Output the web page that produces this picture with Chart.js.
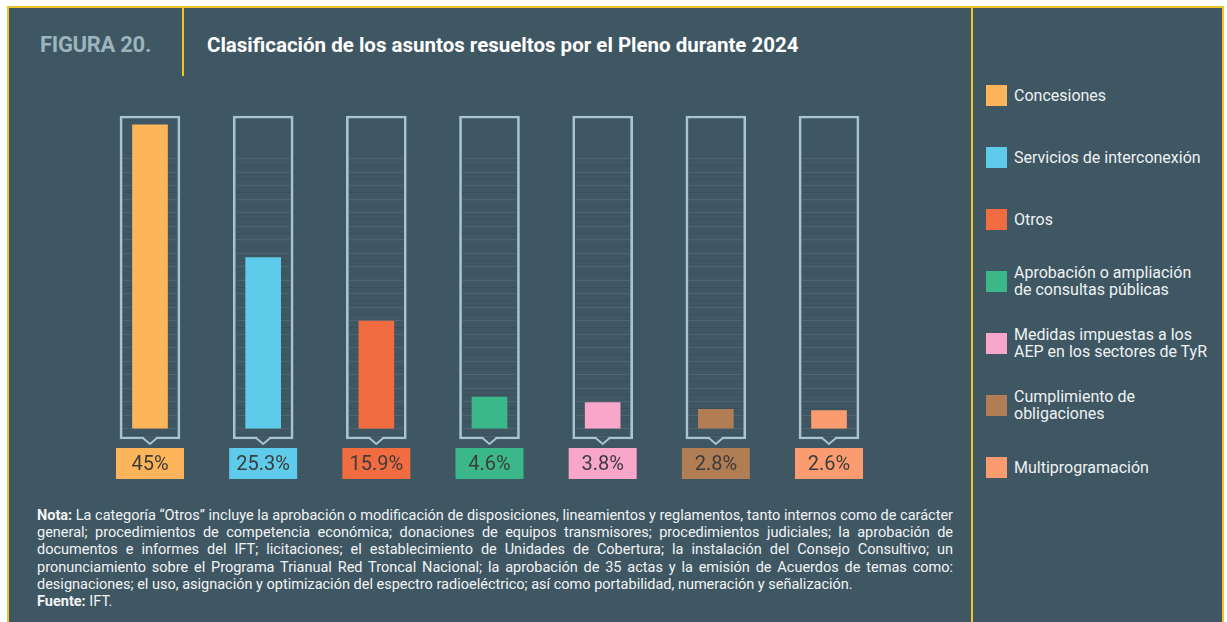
<!DOCTYPE html>
<html><head><meta charset="utf-8">
<script src="https://cdn.jsdelivr.net/npm/chart.js@4.4.1/dist/chart.umd.min.js"></script>
<style>
html,body{margin:0;padding:0;background:#fff;width:1227px;height:622px;overflow:hidden;font-family:Roboto,"Noto Sans",sans-serif;}
.abs{position:absolute;}
#frame{left:7px;top:6px;width:1213px;height:616px;background:#3f5763;border-top:2px solid #eec22b;border-left:2px solid #eec22b;border-right:2px solid #eec22b;}
#div1{left:971px;top:6px;width:2px;height:616px;background:#eec22b;}
#div2{left:182px;top:6px;width:2px;height:70px;background:#eec22b;}
#fig{left:40px;top:31px;font-weight:700;font-size:22px;line-height:28px;color:#9cb4bc;white-space:nowrap;letter-spacing:-0.3px;}
#title{left:207px;top:31px;font-weight:700;font-size:20.5px;line-height:28px;color:#ffffff;white-space:nowrap;}
#chart{left:0;top:0;}
#legend{left:986px;top:64px;width:236px;}
.item{height:62px;display:flex;align-items:center;}
.sw{width:21px;height:21px;flex:none;margin-right:7px;}
.lt{font-size:16px;line-height:17px;color:#eef2f3;white-space:nowrap;}
#note{left:37px;top:507px;width:916px;font-size:14.5px;line-height:17.2px;color:#f2f4f5;}
#note div{text-align:justify;text-align-last:justify;white-space:nowrap;}
#note div.last{text-align-last:left;}
</style></head>
<body>
<div id="frame" class="abs"></div>
<div id="div1" class="abs"></div>
<div id="div2" class="abs"></div>
<div id="fig" class="abs">FIGURA 20.</div>
<div id="title" class="abs">Clasificación de los asuntos resueltos por el Pleno durante 2024</div>
<canvas id="chart" class="abs" width="970" height="500"></canvas>
<div id="legend" class="abs"></div>
<div id="note" class="abs"></div>
<script>
const categories = ['Concesiones', 'Servicios de interconexión', 'Otros', 'Aprobación o ampliación de consultas públicas', 'Medidas impuestas a los AEP en los sectores de TyR', 'Cumplimiento de obligaciones', 'Multiprogramación'];
const legendLines = [['Concesiones'], ['Servicios de interconexión'], ['Otros'], ['Aprobación o ampliación', 'de consultas públicas'], ['Medidas impuestas a los', 'AEP en los sectores de TyR'], ['Cumplimiento de', 'obligaciones'], ['Multiprogramación']];
const values = [45, 25.3, 15.9, 4.6, 3.8, 2.8, 2.6];
const valueLabels = ['45%', '25.3%', '15.9%', '4.6%', '3.8%', '2.8%', '2.6%'];
const colors = ['#fdb55c', '#5ecbea', '#f26c42', '#3bb88a', '#f9a6cb', '#b07d55', '#fb9c70'];
const noteLines = [
  'La categoría “Otros” incluye la aprobación o modificación de disposiciones, lineamientos y reglamentos, tanto internos como de carácter',
  'general; procedimientos de competencia económica; donaciones de equipos transmisores; procedimientos judiciales; la aprobación de',
  'documentos e informes del IFT; licitaciones; el establecimiento de Unidades de Cobertura; la instalación del Consejo Consultivo; un',
  'pronunciamiento sobre el Programa Trianual Red Troncal Nacional; la aprobación de 35 actas y la emisión de Acuerdos de temas como:',
  'designaciones; el uso, asignación y optimización del espectro radioeléctrico; así como portabilidad, numeración y señalización.'
];
const sourceText = 'IFT.';

const TUBE_MIN = -1.6, TUBE_MAX = 46.3;
const BG = '#3f5763';
const TUBE_COLOR = '#a9c4ce';

// legend
const lg = document.getElementById('legend');
legendLines.forEach((lines, i) => {
  const it = document.createElement('div'); it.className = 'item';
  const sw = document.createElement('div'); sw.className = 'sw'; sw.style.background = colors[i];
  const t = document.createElement('div'); t.className = 'lt';
  lines.forEach((l, k) => { if (k) t.appendChild(document.createElement('br')); t.appendChild(document.createTextNode(l)); });
  it.appendChild(sw); it.appendChild(t); lg.appendChild(it);
});
// note
const nt = document.getElementById('note');
noteLines.forEach((l, i) => {
  const d = document.createElement('div');
  if (i === 0) { const b = document.createElement('b'); b.textContent = 'Nota:'; d.appendChild(b); d.appendChild(document.createTextNode(' ' + l)); }
  else d.textContent = l;
  if (i === noteLines.length - 1) d.className = 'last';
  d.style.whiteSpace = 'normal';
  nt.appendChild(d);
});
const src = document.createElement('div'); src.className = 'last';
const sb = document.createElement('b'); sb.textContent = 'Fuente:'; src.appendChild(sb); src.appendChild(document.createTextNode(' ' + sourceText));
nt.appendChild(src);

const tubePlugin = {
  id: 'tubes',
  beforeDatasetsDraw(chart) {
    const ctx = chart.ctx, y = chart.scales.y;
    const meta = chart.getDatasetMeta(1);
    ctx.save();
    meta.data.forEach(el => {
      for (let v = -1; v <= 40; v += 1) {
        const py = Math.round(y.getPixelForValue(v)) + 0.5;
        ctx.strokeStyle = (v % 2 === 0) ? 'rgba(255,255,255,0.08)' : 'rgba(20,35,45,0.14)';
        ctx.lineWidth = 1;
        ctx.beginPath(); ctx.moveTo(el.x - 27, py); ctx.lineTo(el.x + 27, py); ctx.stroke();
      }
    });
    ctx.restore();
  },
  afterDatasetsDraw(chart) {
    const ctx = chart.ctx;
    const tubes = chart.getDatasetMeta(1).data;
    const bars = chart.getDatasetMeta(0).data;
    ctx.save();
    tubes.forEach((el, i) => {
      const bottom = Math.max(el.y, el.base);
      ctx.fillStyle = BG;
      ctx.fillRect(el.x - 6, bottom - 2.5, 12, 3);
      ctx.strokeStyle = TUBE_COLOR; ctx.lineWidth = 2;
      ctx.beginPath();
      ctx.moveTo(el.x - 7, bottom - 1);
      ctx.lineTo(el.x, bottom + 5);
      ctx.lineTo(el.x + 7, bottom - 1);
      ctx.stroke();
      const b = bars[i];
      const top = bottom + 9;
      ctx.fillStyle = colors[i];
      ctx.fillRect(b.x - 34, top, 68, 31);
      ctx.fillStyle = '#3c3c3c';
      ctx.font = '20px Roboto';
      ctx.textAlign = 'center'; ctx.textBaseline = 'middle';
      ctx.fillText(valueLabels[i], b.x, top + 16.5);
    });
    ctx.restore();
  }
};

new Chart(document.getElementById('chart'), {
  type: 'bar',
  data: {
    labels: categories,
    datasets: [
      { data: values, backgroundColor: colors, barThickness: 35, grouped: false, clip: false, borderWidth: 0 },
      { data: categories.map(() => [TUBE_MIN, TUBE_MAX]), backgroundColor: 'rgba(0,0,0,0)', borderColor: TUBE_COLOR, borderWidth: 2, borderSkipped: false, barThickness: 60, grouped: false, clip: false }
    ]
  },
  options: {
    responsive: false,
    animation: false,
    events: [],
    layout: { padding: { left: 93.4, right: 84.4, top: 116, bottom: 61 } },
    plugins: { legend: { display: false }, tooltip: { enabled: false } },
    scales: {
      x: { display: false },
      y: { display: false, min: TUBE_MIN, max: TUBE_MAX }
    }
  },
  plugins: [tubePlugin]
});
</script>
</body></html>
